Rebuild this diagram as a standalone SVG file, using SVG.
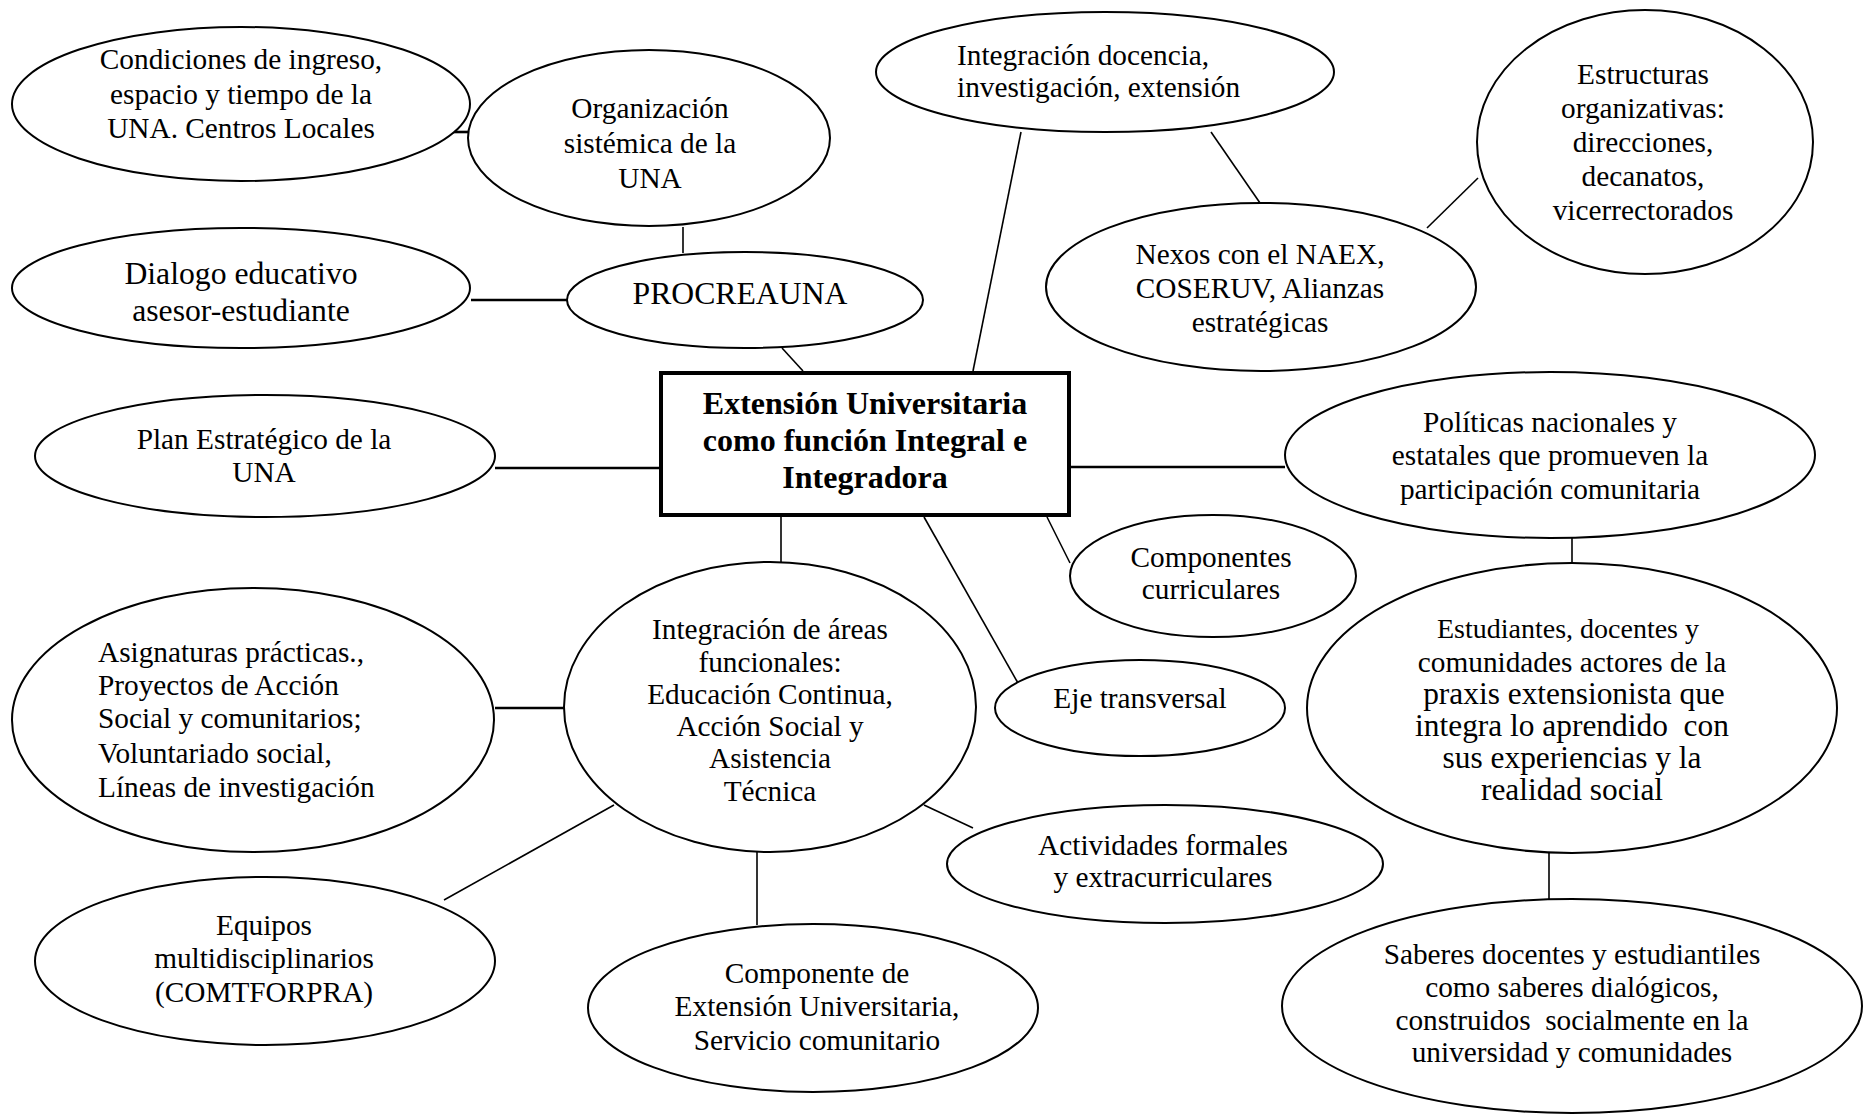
<svg xmlns="http://www.w3.org/2000/svg" width="1871" height="1115" viewBox="0 0 1871 1115">
<style>
  .n ellipse { fill: #fff; stroke: #000; stroke-width: 2; }
  text { font-family: "Liberation Serif", "Times New Roman", serif; font-size: 29.3px; fill: #000; text-anchor: middle; }
  .big { font-size: 31.7px; }
  .mid { font-size: 31.4px; }
  .title { font-size: 32px; font-weight: bold; }
  .left { text-anchor: start; }
  #connectors line { stroke: #000; stroke-width: 1.6; }
  #connectors line.thick { stroke-width: 2.6; }
</style>
<rect width="1871" height="1115" fill="#fff"/>
<g id="connectors">
  <line class="thick" x1="448" y1="132" x2="471" y2="132"/>
  <line x1="683" y1="227" x2="683" y2="253"/>
  <line class="thick" x1="471" y1="300" x2="567" y2="300"/>
  <line x1="782" y1="348" x2="803" y2="371"/>
  <line x1="1021" y1="132" x2="973" y2="371"/>
  <line x1="1211" y1="132" x2="1260" y2="203"/>
  <line x1="1427" y1="228" x2="1478" y2="178"/>
  <line class="thick" x1="495" y1="468" x2="659" y2="468"/>
  <line class="thick" x1="1070" y1="467" x2="1285" y2="467"/>
  <line x1="1047" y1="517" x2="1070" y2="563"/>
  <line x1="924" y1="517" x2="1018" y2="683"/>
  <line x1="781" y1="516" x2="781" y2="563"/>
  <line x1="1572" y1="538" x2="1572" y2="563"/>
  <line class="thick" x1="495" y1="708" x2="564" y2="708"/>
  <line x1="614" y1="805" x2="444" y2="900"/>
  <line x1="757" y1="852" x2="757" y2="925"/>
  <line x1="924" y1="805" x2="973" y2="828"/>
  <line x1="1549" y1="852" x2="1549" y2="900"/>
</g>
<g id="condiciones" class="n">
  <ellipse cx="241" cy="104" rx="229" ry="77"/>
  <text x="241" y="69">Condiciones de ingreso,</text>
  <text x="241" y="103.5">espacio y tiempo de la</text>
  <text x="241" y="138">UNA. Centros Locales</text>
</g>
<g id="organizacion" class="n">
  <ellipse cx="649" cy="138" rx="181" ry="88"/>
  <text x="650" y="118">Organización</text>
  <text x="650" y="153">sistémica de la</text>
  <text x="650" y="188">UNA</text>
</g>
<g id="dialogo" class="n">
  <ellipse cx="241" cy="288" rx="229" ry="60"/>
  <text class="big" x="241" y="283.5">Dialogo educativo</text>
  <text class="big" x="241" y="320.5">asesor-estudiante</text>
</g>
<g id="procreauna" class="n">
  <ellipse cx="745" cy="300" rx="178" ry="48"/>
  <text class="big" x="740" y="304">PROCREAUNA</text>
</g>
<g id="integracion-docencia" class="n">
  <ellipse cx="1105" cy="72" rx="229" ry="60"/>
  <text class="left" x="957" y="64.5">Integración docencia,</text>
  <text class="left" x="957" y="96.5">investigación, extensión</text>
</g>
<g id="nexos" class="n">
  <ellipse cx="1261" cy="287" rx="215" ry="84"/>
  <text x="1260" y="264">Nexos con el NAEX,</text>
  <text x="1260" y="297.5">COSERUV, Alianzas</text>
  <text x="1260" y="331.5">estratégicas</text>
</g>
<g id="estructuras" class="n">
  <ellipse cx="1645" cy="142" rx="168" ry="132"/>
  <text x="1643" y="83.5">Estructuras</text>
  <text x="1643" y="117.5">organizativas:</text>
  <text x="1643" y="151.5">direcciones,</text>
  <text x="1643" y="185.5">decanatos,</text>
  <text x="1643" y="219.5">vicerrectorados</text>
</g>
<g id="extension-universitaria">
  <rect x="661" y="373" width="408" height="142" fill="#fff" stroke="#000" stroke-width="4"/>
  <text class="title" x="865" y="413.5">Extensión Universitaria</text>
  <text class="title" x="865" y="450.5">como función Integral e</text>
  <text class="title" x="865" y="487.5">Integradora</text>
</g>
<g id="plan" class="n">
  <ellipse cx="265" cy="456" rx="230" ry="61"/>
  <text x="264" y="449">Plan Estratégico de la</text>
  <text x="264" y="482">UNA</text>
</g>
<g id="politicas" class="n">
  <ellipse cx="1550" cy="455" rx="265" ry="83"/>
  <text x="1550" y="431.5">Políticas nacionales y</text>
  <text x="1550" y="465">estatales que promueven la</text>
  <text x="1550" y="498.5">participación comunitaria</text>
</g>
<g id="componentes-curriculares" class="n">
  <ellipse cx="1213" cy="576" rx="143" ry="61"/>
  <text x="1211" y="566.5">Componentes</text>
  <text x="1211" y="598.5">curriculares</text>
</g>
<g id="eje" class="n">
  <ellipse cx="1140" cy="708" rx="145" ry="48"/>
  <text x="1140" y="707.5">Eje transversal</text>
</g>
<g id="integracion-areas" class="n">
  <ellipse cx="770" cy="707" rx="206" ry="145"/>
  <text x="770" y="639">Integración de áreas</text>
  <text x="770" y="671.5">funcionales:</text>
  <text x="770" y="704">Educación Continua,</text>
  <text x="770" y="736">Acción Social y</text>
  <text x="770" y="768">Asistencia</text>
  <text x="770" y="800.5">Técnica</text>
</g>
<g id="asignaturas" class="n">
  <ellipse cx="253" cy="720" rx="241" ry="132"/>
  <text class="left" x="98" y="662">Asignaturas prácticas.,</text>
  <text class="left" x="98" y="694.5">Proyectos de Acción</text>
  <text class="left" x="98" y="728">Social y comunitarios;</text>
  <text class="left" x="98" y="762.5">Voluntariado social,</text>
  <text class="left" x="98" y="796.5">Líneas de investigación</text>
</g>
<g id="estudiantes" class="n">
  <ellipse cx="1572" cy="708" rx="265" ry="145"/>
  <text x="1568" y="638" style="font-size:28px">Estudiantes, docentes y</text>
  <text x="1572" y="671.5">comunidades actores de la</text>
  <text class="mid" x="1574" y="704">praxis extensionista que</text>
  <text class="mid" x="1572" y="736" xml:space="preserve">integra lo aprendido  con</text>
  <text class="mid" x="1572" y="768">sus experiencias y la</text>
  <text class="mid" x="1572" y="800">realidad social</text>
</g>
<g id="actividades" class="n">
  <ellipse cx="1165" cy="864" rx="218" ry="59"/>
  <text x="1163" y="854.5">Actividades formales</text>
  <text x="1163" y="886.5">y extracurriculares</text>
</g>
<g id="equipos" class="n">
  <ellipse cx="265" cy="961" rx="230" ry="84"/>
  <text x="264" y="934.5">Equipos</text>
  <text x="264" y="967.5">multidisciplinarios</text>
  <text x="264" y="1001.5">(COMTFORPRA)</text>
</g>
<g id="componente-extension" class="n">
  <ellipse cx="813" cy="1008" rx="225" ry="84"/>
  <text x="817" y="982.5">Componente de</text>
  <text x="817" y="1015.5">Extensión Universitaria,</text>
  <text x="817" y="1049.5">Servicio comunitario</text>
</g>
<g id="saberes" class="n">
  <ellipse cx="1572" cy="1006" rx="290" ry="107"/>
  <text x="1572" y="963.5">Saberes docentes y estudiantiles</text>
  <text x="1572" y="996.5">como saberes dialógicos,</text>
  <text x="1572" y="1029.5" xml:space="preserve">construidos  socialmente en la</text>
  <text x="1572" y="1061.5">universidad y comunidades</text>
</g>
</svg>
